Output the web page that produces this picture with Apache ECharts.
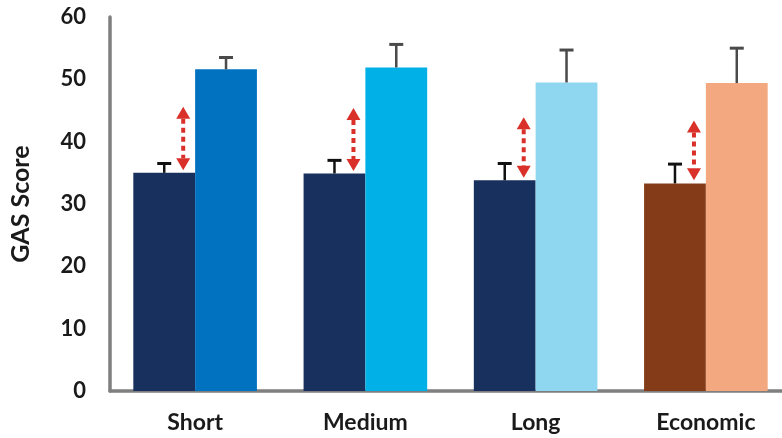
<!DOCTYPE html>
<html><head><meta charset="utf-8">
<script src="https://cdn.jsdelivr.net/npm/echarts@6/dist/echarts.min.js"></script>
<style>html,body{margin:0;padding:0;background:#fff;overflow:hidden}#c{width:800px;height:438px}</style>
</head><body><div id="c"></div>
<script>
const categories = ['Short', 'Medium', 'Long', 'Economic'];
const baseValues = [35.0, 34.9, 33.8, 33.3];
const baseErrTop = [36.5, 37.0, 36.5, 36.4];
const outcomeValues = [51.6, 51.9, 49.5, 49.4];
const outcomeErrTop = [53.5, 55.6, 54.7, 55.0];
const arrowTop = [45.6, 45.4, 43.9, 43.4];
const arrowBottom = [35.4, 35.3, 34.2, 33.8];
const yTicks = [0, 10, 20, 30, 40, 50, 60];

const baseColors = ['#17305e', '#17305e', '#17305e', '#843c18'];
const outcomeColors = ['#0072c0', '#00b0e6', '#8fd6f0', '#f4a87f'];

const chart = echarts.init(document.getElementById('c'));
const FONT = 'Lato';

function errRender(side, capColor) {
  return function (params, api) {
    const ci = api.value(0);
    const bandW = api.size([1, 0])[0];
    const bw = bandW * 0.363;
    const base = api.coord([ci, api.value(1)]);
    const top = api.coord([ci, api.value(2)]);
    const x = base[0] + side * bw / 2;
    return {
      type: 'group',
      children: [
        {type: 'line', shape: {x1: x, y1: base[1], x2: x, y2: top[1]}, style: {stroke: capColor, lineWidth: 2.5}},
        {type: 'line', shape: {x1: x - 7, y1: top[1], x2: x + 7, y2: top[1]}, style: {stroke: capColor, lineWidth: 3}}
      ]
    };
  };
}

function arrowRender(params, api) {
  const ci = api.value(0);
  const bandW = api.size([1, 0])[0];
  const p1 = api.coord([ci, api.value(1)]);
  const p2 = api.coord([ci, api.value(2)]);
  const x = p1[0] - bandW * 0.07;
  const yb = p1[1], yt = p2[1];
  const red = '#d9302a';
  const hw = 7, hh = 12;
  return {
    type: 'group',
    children: [
      {type: 'line', shape: {x1: x, y1: yt + hh, x2: x, y2: yb - hh}, style: {stroke: red, lineWidth: 4, lineDash: [5, 4]}},
      {type: 'polygon', shape: {points: [[x, yt], [x - hw, yt + hh], [x + hw, yt + hh]]}, style: {fill: red}},
      {type: 'polygon', shape: {points: [[x, yb], [x - hw, yb - hh], [x + hw, yb - hh]]}, style: {fill: red}}
    ]
  };
}

chart.setOption({
  animation: false,
  grid: {left: 107, width: 684, top: 17, height: 374},
  xAxis: {
    type: 'category', data: categories,
    axisLine: {lineStyle: {color: '#7f7f7f', width: 3.5}},
    axisTick: {show: false},
    axisLabel: {color: '#1a1a1a', fontFamily: FONT, fontWeight: 'bold', fontSize: 23, margin: 20}
  },
  yAxis: {
    type: 'value', min: 0, max: 60, interval: 10,
    name: 'GAS Score', nameLocation: 'middle', nameGap: 77,
    nameTextStyle: {color: '#1a1a1a', fontFamily: FONT, fontWeight: 'bold', fontSize: 25},
    axisLine: {show: true, lineStyle: {color: '#7f7f7f', width: 3.5}},
    axisTick: {show: false},
    splitLine: {show: false},
    axisLabel: {color: '#1a1a1a', fontFamily: FONT, fontWeight: 'bold', fontSize: 22, margin: 24,
      formatter: v => yTicks.includes(v) ? String(v) : ''}
  },
  series: [
    {type: 'bar', barWidth: '36.3%', barGap: '0%', z: 2,
     data: baseValues.map((v, i) => ({value: v, itemStyle: {color: baseColors[i]}}))},
    {type: 'bar', barWidth: '36.3%', barGap: '0%', z: 2,
     data: outcomeValues.map((v, i) => ({value: v, itemStyle: {color: outcomeColors[i]}}))},
    {type: 'custom', renderItem: errRender(-1, '#111111'), z: 3,
     data: baseValues.map((v, i) => [i, v, baseErrTop[i]])},
    {type: 'custom', renderItem: errRender(1, '#4a4a4a'), z: 3,
     data: outcomeValues.map((v, i) => [i, v, outcomeErrTop[i]])},
    {type: 'custom', renderItem: arrowRender, z: 4,
     data: arrowBottom.map((v, i) => [i, v, arrowTop[i]])}
  ]
});
</script></body></html>
